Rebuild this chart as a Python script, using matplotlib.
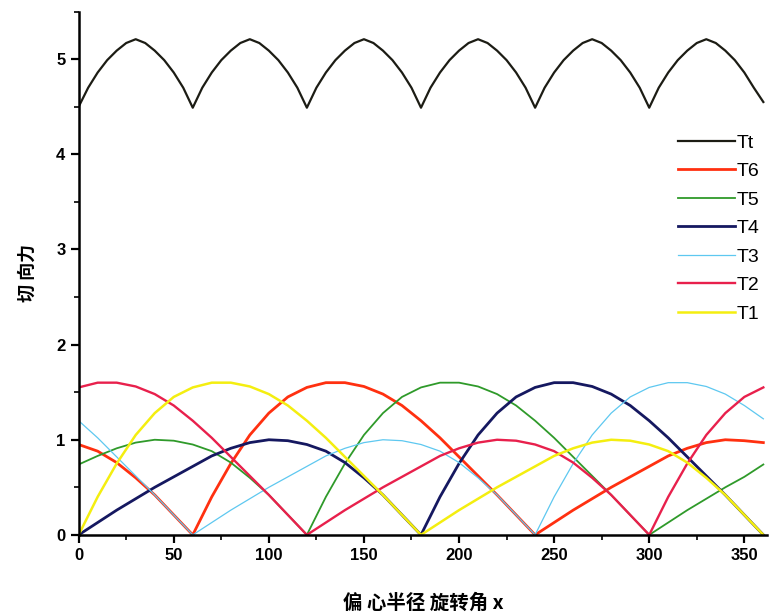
import numpy as np
import matplotlib
matplotlib.use('Agg')
import matplotlib.pyplot as plt
from matplotlib.ticker import MultipleLocator

plt.rcParams['font.family'] = ['Liberation Sans', 'Noto Sans CJK SC', 'DejaVu Sans']

# rotation angle, 10 degree steps for the single forces
angle = np.arange(0, 361, 10)
# 5 degree steps for the total
angle_t = np.arange(0, 361, 5)

T1 = [0, .40, .75, 1.05, 1.28, 1.45, 1.55, 1.60, 1.60, 1.56, 1.48, 1.36, 1.20, 1.02, .82, .62, .42, .21,
      0, .13, .26, .38, .50, .61, .72, .83, .91, .97, 1.0, .99, .95, .88, .76, .60, .42, .21, 0]
T2 = [1.55, 1.60, 1.60, 1.56, 1.48, 1.36, 1.20, 1.02, .82, .62, .42, .21,
      0, .13, .26, .38, .50, .61, .72, .83, .91, .97, 1.0, .99, .95, .88, .76, .60, .42, .21,
      0, .40, .75, 1.05, 1.28, 1.45, 1.55]
T3 = [1.20, 1.02, .82, .62, .42, .21,
      0, .13, .26, .38, .50, .61, .72, .83, .91, .97, 1.0, .99, .95, .88, .76, .60, .42, .21,
      0, .40, .75, 1.05, 1.28, 1.45, 1.55, 1.60, 1.60, 1.56, 1.48, 1.36, 1.22]
T4 = [0, .13, .26, .38, .50, .61, .72, .83, .91, .97, 1.0, .99, .95, .88, .76, .60, .42, .21,
      0, .40, .75, 1.05, 1.28, 1.45, 1.55, 1.60, 1.60, 1.56, 1.48, 1.36, 1.20, 1.02, .82, .62, .42, .21, 0]
T5 = [.74, .83, .91, .97, 1.0, .99, .95, .88, .76, .60, .42, .21,
      0, .40, .75, 1.05, 1.28, 1.45, 1.55, 1.60, 1.60, 1.56, 1.48, 1.36, 1.20, 1.02, .82, .62, .42, .21,
      0, .13, .26, .38, .50, .61, .74]
T6 = [.95, .88, .76, .60, .42, .21,
      0, .40, .75, 1.05, 1.28, 1.45, 1.55, 1.60, 1.60, 1.56, 1.48, 1.36, 1.20, 1.02, .82, .62, .42, .21,
      0, .13, .26, .38, .50, .61, .72, .83, .91, .97, 1.0, .99, .97]
Tt = [4.50, 4.70, 4.86, 4.99, 5.09, 5.17, 5.21, 5.17, 5.09, 4.99, 4.86, 4.70,
      4.49, 4.70, 4.86, 4.99, 5.09, 5.17, 5.21, 5.17, 5.09, 4.99, 4.86, 4.70,
      4.49, 4.70, 4.86, 4.99, 5.09, 5.17, 5.21, 5.17, 5.09, 4.99, 4.86, 4.70,
      4.49, 4.70, 4.86, 4.99, 5.09, 5.17, 5.21, 5.17, 5.09, 4.99, 4.86, 4.70,
      4.49, 4.70, 4.86, 4.99, 5.09, 5.17, 5.21, 5.17, 5.09, 4.99, 4.86, 4.70,
      4.49, 4.70, 4.86, 4.99, 5.09, 5.17, 5.21, 5.17, 5.09, 4.99, 4.86, 4.70,
      4.55]

fig = plt.figure(figsize=(7.71, 6.12), dpi=100)
ax = fig.add_axes([0.102, 0.126, 0.893, 0.855])

# name, data, x, colour, width
curves = [('Tt', Tt, angle_t, '#1c1c14', 1.6),
          ('T6', T6, angle, '#ff3010', 2.0),
          ('T5', T5, angle, '#2f9a2a', 1.3),
          ('T4', T4, angle, '#151860', 2.0),
          ('T3', T3, angle, '#5ec8f0', 0.9),
          ('T2', T2, angle, '#e8204c', 1.7),
          ('T1', T1, angle, '#f4ee10', 1.8)]
for name, vals, xs, col, lw in curves:
    ax.plot(xs, vals, color=col, lw=lw, label=name)

ax.set_xlim(0, 362)
ax.set_ylim(0, 5.5)
ax.spines['top'].set_visible(False)
ax.spines['right'].set_visible(False)
for s in ['left', 'bottom']:
    ax.spines[s].set_linewidth(1.8)

ax.xaxis.set_major_locator(MultipleLocator(50))
ax.xaxis.set_minor_locator(MultipleLocator(25))
ax.yaxis.set_major_locator(MultipleLocator(1))
ax.yaxis.set_minor_locator(MultipleLocator(0.5))
ax.tick_params(which='major', direction='out', length=6, width=1.6, labelsize=12)
ax.tick_params(which='minor', direction='out', length=3.5, width=1.2)
for lab in ax.get_xticklabels() + ax.get_yticklabels():
    lab.set_fontweight('bold')

ax.set_xlabel('偏 心半径 旋转角 x', fontsize=14, fontweight='bold', labelpad=22,
              family=['Noto Sans CJK SC', 'DejaVu Sans'])
ax.set_ylabel('切 向力', fontsize=13, fontweight='bold', labelpad=14,
              family=['Noto Sans CJK SC', 'DejaVu Sans'])

lgd = ax.legend(loc='upper right', bbox_to_anchor=(1.0, 0.80), bbox_transform=fig.transFigure,
                frameon=False, fontsize=14, handlelength=2.9, handletextpad=0.1,
                labelspacing=0.56, borderaxespad=0.2)

plt.savefig('out.png', dpi=100)
